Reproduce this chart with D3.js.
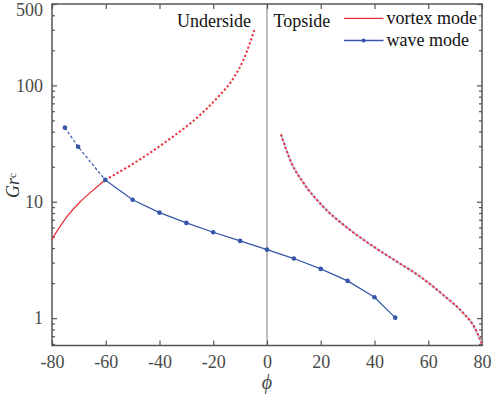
<!DOCTYPE html>
<html><head><meta charset="utf-8">
<script src="https://cdn.jsdelivr.net/npm/d3@7"></script>
<style>
html,body{margin:0;padding:0;background:#fff;}
svg{display:block;font-family:"Liberation Serif","Times New Roman",serif;}
</style></head>
<body>
<svg id="c" width="495" height="396"></svg>
<script>
// ---- data ----
const xTicks = [-80, -60, -40, -20, 0, 20, 40, 60, 80];
const yTickLabels = [1, 10, 100, 500];
const vortexSolid = [[-80, 4.77], [-74.5, 7.4], [-69.5, 10.0], [-65, 12.4], [-60.2, 15.4]];
const vortexDashLeft = [[-60.2, 15.4], [-49.7, 21.3], [-37.3, 33.2], [-24.9, 55.6], [-18.7, 77.3], [-12.5, 115], [-8.8, 165], [-4.7, 298]];
const vortexDashRight = [[5.2, 37.9], [9.2, 21.3], [13.5, 14.6], [20.9, 9.08], [30.9, 5.73], [39.6, 4.12], [48.3, 3.06], [56.9, 2.28], [65.6, 1.58], [73.1, 1.10], [77, 0.85], [80, 0.6]];
const waveDash = [[-75.2, 43.3], [-70.3, 29.7], [-60.2, 15.4]];
const waveSolid = [[-60.2, 15.4], [-50, 10.4], [-40, 8.06], [-30, 6.58], [-20, 5.47], [-10, 4.61], [0, 3.88], [10, 3.25], [20, 2.65], [30, 2.09], [40, 1.51], [47.7, 1.01]];
const regionLabels = ["Underside", "Topside"];
const legendLabels = ["vortex mode", "wave mode"];

const red = "#e8303c", blue = "#3555a8", axisCol = "#555";
const L = 52, R = 482, T = 4, B = 345.5;
const svg = d3.select("#c");
const x = d3.scaleLinear().domain([-80, 80]).range([L, R]);
const y = d3.scaleLog().domain([0.582, 500]).range([B, T]);

// zero line
svg.append("line").attr("x1", x(0)).attr("x2", x(0)).attr("y1", T).attr("y2", B)
  .attr("stroke", "#bdbdbd").attr("stroke-width", 2);

// minor ticks
const minor = [];
for (let d = 0.1; d <= 100; d *= 10) for (let k = 2; k <= 9; k++) {
  const v = +(k * d).toPrecision(3);
  if (v >= 0.582 && v <= 500 && ![1, 10, 100].includes(v)) minor.push(v);
}
const g = svg.append("g");
const axB = d3.axisBottom(x).tickValues(xTicks).tickSizeInner(-5).tickSizeOuter(0).tickPadding(10).tickFormat(d => String(d));
const axT = d3.axisTop(x).tickValues(xTicks).tickSizeInner(-5).tickSizeOuter(0).tickFormat("");
const axL = d3.axisLeft(y).tickValues(yTickLabels).tickSizeInner(-5).tickSizeOuter(0).tickPadding(9).tickFormat(d => String(d));
const axR = d3.axisRight(y).tickValues(yTickLabels).tickSizeInner(-5).tickSizeOuter(0).tickFormat("");
const axLm = d3.axisLeft(y).tickValues(minor).tickSizeInner(-3).tickSizeOuter(0).tickFormat("");
const axRm = d3.axisRight(y).tickValues(minor).tickSizeInner(-3).tickSizeOuter(0).tickFormat("");
g.append("g").attr("transform", `translate(0,${B})`).call(axB);
g.append("g").attr("transform", `translate(0,${T})`).call(axT);
const gl = g.append("g").attr("transform", `translate(${L},0)`).call(axL);
g.append("g").attr("transform", `translate(${R},0)`).call(axR);
g.append("g").attr("transform", `translate(${L},0)`).call(axLm);
g.append("g").attr("transform", `translate(${R},0)`).call(axRm);
g.selectAll(".domain").remove();
g.selectAll("line").attr("stroke", axisCol).attr("stroke-width", 1.2);
g.selectAll("text").attr("fill", "#4a4a4a").style("font-size", "18px").style("font-family", '"Liberation Serif","Times New Roman",serif');
// keep top label inside the picture, as in the reference
gl.selectAll(".tick text").filter(d => d === 500).attr("dy", "0.32em").attr("y", 6);
// frame
svg.append("rect").attr("x", L).attr("y", T).attr("width", R - L).attr("height", B - T)
  .attr("fill", "none").attr("stroke", axisCol).attr("stroke-width", 1.5);

const line = d3.line().x(d => x(d[0])).y(d => y(d[1]));
const curve = d3.line().x(d => x(d[0])).y(d => y(d[1])).curve(d3.curveMonotoneX);

// vortex
svg.append("path").datum(vortexSolid).attr("d", curve).attr("fill", "none").attr("stroke", red).attr("stroke-width", 1.3);
svg.append("path").datum(vortexDashLeft).attr("d", curve).attr("fill", "none").attr("stroke", red).attr("stroke-width", 2).attr("stroke-dasharray", "2.2,2.2");
svg.append("path").datum(vortexDashRight).attr("d", curve).attr("fill", "none").attr("stroke", "#c4cde3").attr("stroke-width", 2.2);
svg.append("path").datum(vortexDashRight).attr("d", curve).attr("fill", "none").attr("stroke", red).attr("stroke-width", 2).attr("stroke-dasharray", "2.2,2.2");

// wave
svg.append("path").datum(waveDash).attr("d", line).attr("fill", "none").attr("stroke", blue).attr("stroke-width", 1.2).attr("stroke-dasharray", "3,2");
svg.append("path").datum(waveSolid).attr("d", line).attr("fill", "none").attr("stroke", blue).attr("stroke-width", 1.2);
svg.append("g").selectAll("circle").data(waveDash.concat(waveSolid.slice(1))).join("circle")
  .attr("cx", d => x(d[0])).attr("cy", d => y(d[1])).attr("r", 2.3).attr("fill", blue);

// region labels
svg.append("text").attr("x", x(0) - 16).attr("y", 27).attr("text-anchor", "end").attr("font-size", 18).attr("fill", "#111").text(regionLabels[0]);
svg.append("text").attr("x", x(0) + 6.5).attr("y", 27).attr("font-size", 18).attr("fill", "#111").text(regionLabels[1]);

// legend
const lg = svg.append("g");
lg.append("line").attr("x1", 344).attr("x2", 383.5).attr("y1", 18.3).attr("y2", 18.3).attr("stroke", red).attr("stroke-width", 1.3);
lg.append("text").attr("x", 386.5).attr("y", 23.5).attr("font-size", 18).attr("fill", "#111").text(legendLabels[0]);
lg.append("line").attr("x1", 344).attr("x2", 383.5).attr("y1", 40.5).attr("y2", 40.5).attr("stroke", blue).attr("stroke-width", 1.3);
lg.append("circle").attr("cx", 363.5).attr("cy", 40.5).attr("r", 2).attr("fill", blue);
lg.append("text").attr("x", 386.5).attr("y", 45.5).attr("font-size", 18).attr("fill", "#111").text(legendLabels[1]);

// axis titles
svg.append("text").attr("x", x(0)).attr("y", 389).attr("text-anchor", "middle").attr("font-size", 20)
  .attr("font-style", "italic").attr("fill", "#4a4a4a").text("ϕ");
const yl = svg.append("text").attr("transform", "translate(18.5,198) rotate(-90)").attr("font-size", 18).attr("fill", "#333");
yl.append("tspan").attr("font-style", "italic").text("Gr");
yl.append("tspan").attr("font-size", 11).attr("dy", -3).text("c");
</script>
</body></html>
